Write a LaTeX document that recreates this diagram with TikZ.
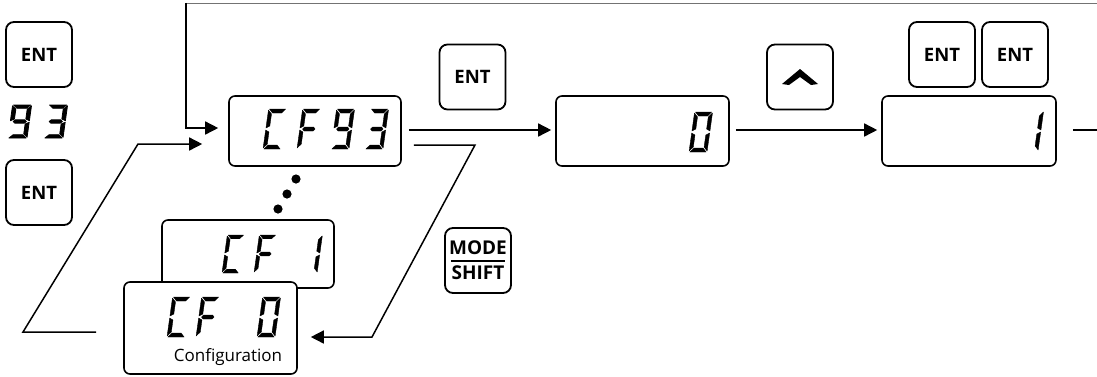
\documentclass[tikz,border=0pt]{standalone}
\usepackage{fontspec}
\newfontfamily\osans{Open Sans}
\usetikzlibrary{arrows.meta}
\newcommand\lcdsegA{\filldraw (0.05,2)--(0.95,2)--(0.75,1.8)--(0.25,1.8)--cycle;}
\newcommand\lcdsegD{\filldraw (0.05,0)--(0.95,0)--(0.75,0.2)--(0.25,0.2)--cycle;}
\newcommand\lcdsegG{\filldraw (0.15,1)--(0.25,1.1)--(0.75,1.1)--(0.85,1)--(0.75,0.9)--(0.25,0.9)--cycle;}
\newcommand\lcdsegF{\filldraw (0,1.95)--(0.2,1.75)--(0.2,1.15)--(0,1.05)--cycle;}
\newcommand\lcdsegE{\filldraw (0,0.95)--(0.2,0.85)--(0.2,0.25)--(0,0.05)--cycle;}
\newcommand\lcdsegB{\filldraw (1,1.95)--(0.8,1.75)--(0.8,1.15)--(1,1.05)--cycle;}
\newcommand\lcdsegC{\filldraw (1,0.95)--(0.8,0.85)--(0.8,0.25)--(1,0.05)--cycle;}
\newcommand\lcdlw{0.35pt}
\newcommand\lcd[5][0.9]{\begin{scope}[shift={(#2,#3)},x=#4pt,y=#4pt,xslant=0.14,xscale=#1,line width=\lcdlw,line join=round]
  \foreach \s in {#5}{\csname lcdseg\s\endcsname}\end{scope}}
\tikzset{
  disp/.style={draw, line width=1.6pt, rounded corners=6pt, fill=white, inner sep=0pt},
  btn/.style={draw, line width=1.8pt, rounded corners=8pt, minimum width=66pt, minimum height=65pt,
    inner sep=0pt, font=\osans\bfseries\fontsize{18.5}{20}\selectfont},
  btntext/.style={inner sep=0pt, font=\osans\bfseries\fontsize{19}{20}\selectfont},
  conn/.style={line width=1.5pt},
  arr/.style={conn, -{Triangle[length=13pt,width=13pt]}},
}
\begin{document}
\begin{tikzpicture}[x=1pt,y=-1pt]
\useasboundingbox (0,0) rectangle (1097,376);
% buttons
\node[btn] (ent1) at (39,54.5) {ENT};
\node[btn] (ent2) at (39,192.5) {ENT};
\node[btn] (entA) at (472.5,77) {ENT};
\node[btn] (up) at (800,77) {};
\node[btn] (entB) at (942,54.5) {ENT};
\node[btn] (entC) at (1015,54.5) {ENT};
\node[btn] (mode) at (478,260.5) {};
\node[btntext] (modet) at ([yshift=13pt]mode.center) {MODE};
\node[btntext] (shiftt) at ([yshift=-12pt]mode.center) {SHIFT};
\fill ([shift={(-27pt,1pt)}]mode.center) rectangle ([shift={(27pt,-1.5pt)}]mode.center);
\fill ([shift={(-18pt,-7pt)}]up.center) -- ([shift={(0pt,8pt)}]up.center) -- ([shift={(18pt,-7pt)}]up.center)
  -- ([shift={(11pt,-8pt)}]up.center) -- ([shift={(0pt,0pt)}]up.center) -- ([shift={(-11pt,-8pt)}]up.center) -- cycle;
% left 93
\renewcommand\lcdlw{0.8pt}
\lcd[1.15]{8}{138}{16.5}{A,B,F,G,C,D}
\lcd[1.15]{44}{138}{16.5}{A,B,G,C,D}
\renewcommand\lcdlw{0.35pt}
% displays
\node[disp, minimum width=172pt, minimum height=70pt] (cf93) at (315,131) {};
\node[disp, minimum width=173pt, minimum height=70pt] (box0) at (642.5,131) {};
\node[disp, minimum width=174pt, minimum height=70pt] (box1) at (969,131) {};
\node[disp, minimum width=172pt, minimum height=68pt] (cf1) at (248,254) {};
\node[disp, minimum width=173pt, minimum height=92pt] (cf0) at (210.5,328) {};
\node[font=\osans\fontsize{17}{18}\selectfont, inner sep=0pt] (conf) at (228,357) {Configuration};
% digits
\lcd{263}{149}{20}{A,F,E,D}
\lcd{297}{149}{20}{A,F,G,E}
\lcd{331}{149}{20}{A,B,F,G,C,D}
\lcd{365}{149}{20}{A,B,G,C,D}
\lcd{689}{152}{20}{A,B,C,D,E,F}
\lcd{1020}{151}{20}{B,C}
\begin{scope}
\clip (0,0) rectangle (1097,281);
\lcd{222}{273}{19}{A,F,E,D}
\lcd{254}{273}{19}{A,F,G,E}
\lcd{300}{273}{19}{B,C}
\end{scope}
\lcd{167}{337}{20}{A,F,E,D}
\lcd{196}{337}{20}{A,F,G,E}
\lcd{257}{337}{20}{A,B,C,D,E,F}
% dots
\fill (296,179) circle[radius=4.6pt];
\fill (287,194) circle[radius=4.6pt];
\fill (278,209) circle[radius=4.6pt];
% connectors
\coordinate (tr) at (1097,3.5);
\coordinate (tl) at (186,3.5);
\draw[line width=1.3pt, black!55] (tr) -- (tl);
\draw[arr] ([yshift=0.6pt]tl) |- ([shift={(-10pt,3pt)}]cf93.west);
\coordinate (lb1) at (23,332);
\coordinate (lb2) at (138,144);
\draw[arr] ([shift={(-27pt,-4pt)}]cf0.west) -- (lb1) -- (lb2) -- ([shift={(-26pt,-13pt)}]cf93.west);
\draw[arr, shorten <=7pt, shorten >=4pt] ([yshift=1pt]cf93.east) -- ([yshift=1pt]box0.west);
\draw[arr, shorten <=6pt, shorten >=4pt] ([yshift=1pt]box0.east) -- ([yshift=1pt]box1.west);
\coordinate (rend) at (1097,130);
\draw[conn, shorten <=16pt] ([yshift=1pt]box1.east) -- (rend);
\coordinate (l1) at (475,145);
\coordinate (l2) at (372,337);
\draw[arr] ([shift={(12pt,-14pt)}]cf93.east) -- (l1) -- (l2) -- ([shift={(13pt,-9pt)}]cf0.east);
\end{tikzpicture}
\end{document}
